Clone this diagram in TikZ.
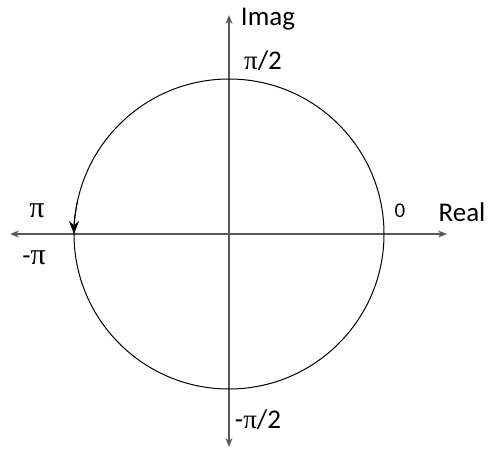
\documentclass[tikz,border=0pt]{standalone}
\usepackage{fontspec}
\setmainfont{Carlito}
\newfontfamily\grk{Liberation Serif}
\usetikzlibrary{arrows.meta}
\begin{document}
\begin{tikzpicture}[x=1pt,y=-1pt,
  axis/.style={draw=black!65,line width=1.4pt,{Stealth[length=9pt,width=7pt]}-{Stealth[length=9pt,width=7pt]}},
  circ/.style={draw=black,line width=1pt},
  lbl/.style={inner sep=0pt,font=\fontsize{27}{30}\selectfont}]
\useasboundingbox (0,0) rectangle (490,450);
\coordinate (c) at (229,234);
\coordinate (xl) at (10,234);
\coordinate (xr) at (447,234);
\coordinate (yt) at (229,15);
\coordinate (yb) at (229,447);
\draw[axis] (xl) -- (xr);
\draw[axis] (yb) -- (yt);
\draw[circ] (c) circle[radius=155];
\draw[circ,-{Stealth[length=13pt,width=10pt]}] (c) ++(192:155) arc[start angle=192,end angle=180,radius=155];
\node[lbl] (pi) at (37,211) {\fontsize{30}{32}\selectfont\grk π};
\node[lbl] (mpi) at (34,258) {-{\fontsize{30}{32}\selectfont\grk π}};
\node[lbl] (zero) at (400,211) {\fontsize{21}{24}\selectfont 0};
\node[lbl] (real) at (462,212) {Real};
\node[lbl] (imag) at (268,19) {Imag};
\node[lbl] (pi2) at (263,61) {{\grk π}/2};
\node[lbl] (mpi2) at (258,420) {-{\grk π}/2};
\end{tikzpicture}
\end{document}
